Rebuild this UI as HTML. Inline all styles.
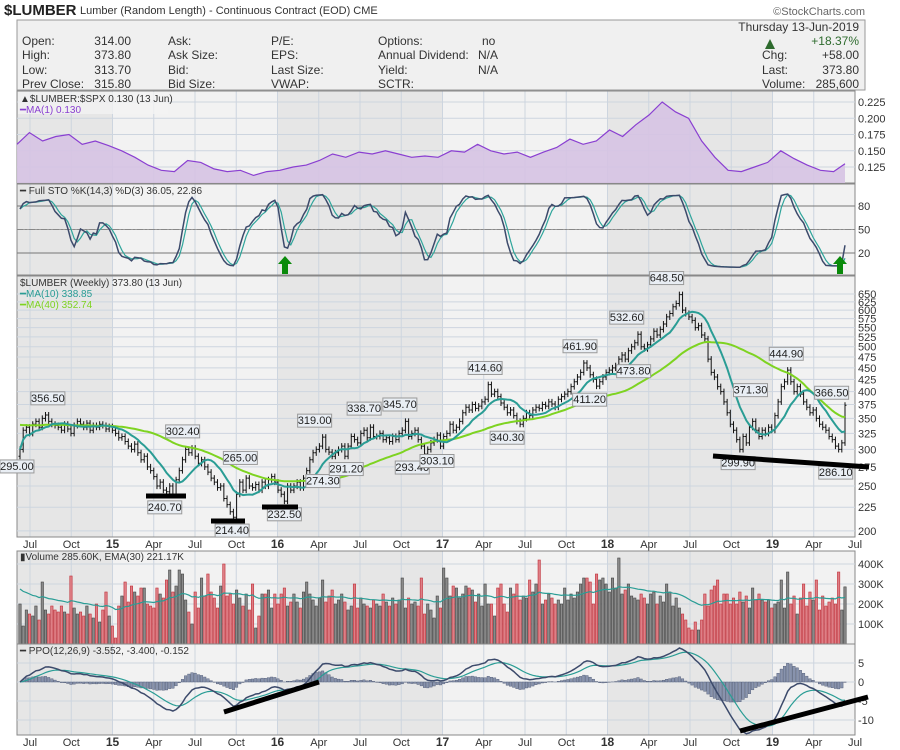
<!DOCTYPE html>
<html><head><meta charset="utf-8">
<style>
html,body{margin:0;padding:0;background:#fff;}
svg{display:block;font-family:"Liberation Sans",sans-serif;}
</style></head>
<body>
<svg id="chart" width="900" height="750" viewBox="0 0 900 750">
<g>
<text x="4" y="15" font-size="15" font-weight="bold" fill="#222">$LUMBER</text>
<text x="80" y="14" font-size="11" fill="#333">Lumber (Random Length) - Continuous Contract (EOD) CME</text>
<text x="865" y="15" font-size="11" fill="#666" text-anchor="end">©StockCharts.com</text>
</g>
<g font-size="12" fill="#333">
<rect x="17" y="20" width="848" height="70" fill="#f0f0f0" stroke="#999"/>
<text x="22" y="45">Open:</text><text x="131" y="45" text-anchor="end">314.00</text>
<text x="22" y="59">High:</text><text x="131" y="59" text-anchor="end">373.80</text>
<text x="22" y="74">Low:</text><text x="131" y="74" text-anchor="end">313.70</text>
<text x="22" y="88">Prev Close:</text><text x="131" y="88" text-anchor="end">315.80</text>
<text x="168" y="45">Ask:</text><text x="168" y="59">Ask Size:</text><text x="168" y="74">Bid:</text><text x="168" y="88">Bid Size:</text>
<text x="271" y="45">P/E:</text><text x="271" y="59">EPS:</text><text x="271" y="74">Last Size:</text><text x="271" y="88">VWAP:</text>
<text x="378" y="45">Options:</text><text x="378" y="59">Annual Dividend:</text><text x="378" y="74">Yield:</text><text x="378" y="88">SCTR:</text>
<text x="482" y="45">no</text><text x="478" y="59">N/A</text><text x="478" y="74">N/A</text>
<text x="859" y="31" text-anchor="end">Thursday 13-Jun-2019</text>
<polygon points="765,49 775,49 770,39" fill="#2e6b2e"/>
<text x="859" y="45" text-anchor="end" fill="#2e6b2e">+18.37%</text>
<text x="762" y="59">Chg:</text><text x="859" y="59" text-anchor="end">+58.00</text>
<text x="762" y="74">Last:</text><text x="859" y="74" text-anchor="end">373.80</text>
<text x="762" y="88">Volume:</text><text x="859" y="88" text-anchor="end">285,600</text>
</g>
<g id="panels"></g>
</svg>
<script>
// ---- data ----
const closes = [300,330,335,
325,340,345,335, 350,356,345,340,338, 335,330,340,332, 325,338,345,340, 335,342,330,338,335, 340,338,332,336,
330,325,318,320, 312,305,300,308, 295,285,290,275,270, 262,250,255,245, 243,250,240,258,270, 285,300,295,302,
290,280,285,275, 268,260,255,248,250, 235,228,220,214, 240,255,245,260,250, 248,252,245,255, 250,258,262,255,
245,240,232,250,245, 250,255,248,260, 270,285,295,300, 305,319,300,296,290, 295,300,305,290, 305,320,315,310,
325,330,318,335,320, 320,325,315,318, 312,320,315,325, 330,345,320,325,330, 315,305,293,300, 310,315,322,305,320,
325,340,330,335, 345,360,370,365, 375,368,372,380, 385,414,395,400, 390,378,370,360,365, 355,345,340,350,
360,355,365,370, 368,375,372,380,376, 370,385,390,395, 400,410,420,430, 440,461,450,435, 425,411,420,430,440,
445,450,455,470, 480,470,490,500, 510,532,500,495,505, 520,540,530,545, 560,580,590,610, 620,648,600,590,580,
570,550,555,530, 520,470,440,430,410, 400,380,360,340, 330,315,300,320, 310,335,345,330,320, 330,325,335,330,
355,380,410,420, 445,420,400,410, 395,380,370,360,365, 350,340,335,330, 320,315,305,300, 310,373.8];
const volumes = [280,200,90,
170,150,140,190, 120,310,170,150,190, 170,160,190,160, 150,340,180,150, 160,140,190,150,130, 200,110,170,260,
140,90,30,190, 240,310,210,290,260, 240,280,280,200, 190,180,280,250, 230,320,370,260, 290,370,350,220,
160,100,260,180, 330,240,350,260, 230,180,290,400, 240,250,200,270, 230,190,250,170, 300,80,140,250,
250,270,180,250,200, 250,280,190,210, 250,210,180,260, 310,250,220,190, 230,320,210,240, 270,200,220,250,
210,170,190,300, 180,230,200,190, 180,220,200,190, 250,210,190,230, 200,220,330,180, 230,200,210,190,
330,150,200,170, 130,240,180,380, 330,240,290,280, 230,250,290,280, 270,210,250,190, 300,200,200,140,
280,300,200,160, 280,250,300,220, 240,230,320,260, 300,420,200,220, 250,230,200,220, 200,280,220,250,
230,260,300,330, 330,310,200,350, 320,330,300,260, 330,280,430,250, 270,300,240,230, 220,250,230,200,
250,260,200,240, 210,300,260,190, 230,180,150,120, 80,70,110,70, 120,250,190,270, 290,320,200,250,
250,200,230,200, 260,210,240,180, 280,220,250,220, 210,220,180,200, 210,320,180,360, 200,240,150,230,
300,190,260,220, 320,170,240,190, 210,230,200, 360,170,285.6];
const ratioVals = [0.160,0.178,0.165,0.172,0.175,0.160,0.165,0.158,
0.150,0.140,0.128,0.120,0.118,0.135,0.132,0.122,0.118,0.120,0.112,0.118,
0.120,0.125,0.128,0.135,0.145,0.140,0.148,0.145,0.150,0.145,0.140,0.142,
0.140,0.150,0.148,0.160,0.150,0.145,0.148,0.140,0.148,0.155,0.168,0.160,
0.165,0.182,0.172,0.190,0.205,0.225,0.210,0.200,0.165,0.140,0.120,0.118,
0.125,0.132,0.150,0.138,0.128,0.120,0.118,0.130];
const ratioMonths = ratioVals.map((v,i)=>-1+i*(60.4/(ratioVals.length-1)));
const monthLabels = ["Jul","Oct","15","Apr","Jul","Oct","16","Apr","Jul","Oct","17","Apr","Jul","Oct","18","Apr","Jul","Oct","19","Apr","Jul"];
const priceTicks = [200,225,250,275,300,325,350,375,400,425,450,475,500,525,550,575,600,625,650];
const ratioTicks = [0.125,0.150,0.175,0.200,0.225];
const stoTicks = [20,50,80];
const volTicks = [100,200,300,400];
const ppoTicks = [5,0,-5,-10];
const annValues = [356.5,295.0,302.4,240.7,265.0,214.4,232.5,319.0,274.3,291.2,338.7,345.7,293.4,303.1,414.6,340.3,461.9,411.2,532.6,473.8,648.5,299.9,371.3,444.9,366.5,286.1];
const annMonths = [1.3,-0.95,11.1,9.8,15.3,14.7,18.5,20.7,21.3,23,24.3,26.9,27.8,29.6,33.1,34.7,40,40.7,43.4,43.9,46.3,51.5,52.4,55,58.3,58.6];
const annUp = [1,0,1,0,1,0,0,1,0,0,1,1,0,0,1,0,1,0,1,0,1,0,1,1,1,0];

// ---- scales ----
const L=17,R=855;
const NS='http://www.w3.org/2000/svg';
const root=document.getElementById('panels');
function el(tag,attrs,parent){const e=document.createElementNS(NS,tag);for(const k in attrs)e.setAttribute(k,attrs[k]);(parent||root).appendChild(e);return e;}
const N=closes.length;
const xW=i=>20+i*(825/(N-1));
const xM=m=>30+m*13.75;
const yP=p=>294+201*(Math.log(650)-Math.log(p));
const yR=v=>102+(0.225-v)*650;
const yS=v=>253-(v-20)*(47/60);
const yV=v=>644-v*0.2;
const yPPO=v=>682-v*3.8;

// derived series
const opens=closes.map((c,i)=>i?closes[i-1]:c-10);
const highs=closes.map((c,i)=>Math.max(c,opens[i])*1.015);
const lows=closes.map((c,i)=>Math.min(c,opens[i])*0.985);
function sma(a,n){return a.map((v,i)=>{const s=a.slice(Math.max(0,i-n+1),i+1);return s.reduce((x,y)=>x+y,0)/s.length;});}
function ema(a,n){const k=2/(n+1);let o=[];a.forEach((v,i)=>o.push(i?v*k+o[i-1]*(1-k):v));return o;}
const ma10=sma(closes,10);
const ma40=sma([340,338,342,336,340,345,338,342,340,344,338,336,340,342,345,340,338,336,340,344,342,338,335,340,342,345,340,338,342,340].concat(closes),40).slice(30);
const fastK=closes.map((c,i)=>{const h=Math.max(...highs.slice(Math.max(0,i-13),i+1)),l=Math.min(...lows.slice(Math.max(0,i-13),i+1));return h>l?(c-l)/(h-l)*100:50;});
const slowK=sma(fastK,3), slowD=sma(slowK,3);
const e12=ema(closes,12),e26=ema(closes,26);
const ppo=closes.map((c,i)=>(e12[i]-e26[i])/e26[i]*100);
const sig=ema(ppo,9);
const hist=ppo.map((v,i)=>v-sig[i]);
const volEma=ema(volumes,30);

function panel(name,y0,y1){
  const g=el('g',{});
  
  
  el('rect',{x:L,y:y0,width:R-L,height:y1-y0,fill:'#f2f2f2'},g);
  [[L,xM(6)],[xM(18),xM(30)],[xM(42),xM(54)]].forEach(s=>el('rect',{x:s[0],y:y0,width:s[1]-s[0],height:y1-y0,fill:'#e6e6e6'},g));
  monthLabels.forEach((m,i)=>{const x=xM(i*3);if(x<R)el('line',{x1:x,x2:x,y1:y0,y2:y1,stroke:'#cdd5df','stroke-width':1},g);});
  el('rect',{x:L,y:y0,width:R-L,height:y1-y0,fill:'none',stroke:'#888'},g);
  return g;
}
function hgrid(g,ys,labels,y0,y1,dark){
  ys.forEach((y,i)=>{el('line',{x1:L,x2:R,y1:y,y2:y,stroke:dark&&dark[i]?dark[i]:'#cdd5df'},g);
    const t=el('text',{x:858,y:y+4,'font-size':11,fill:'#333'},g);t.textContent=labels[i];
    
    });
}
function pathD(xs,ys){return xs.map((x,i)=>(i?'L':'M')+x.toFixed(1)+' '+ys[i].toFixed(1)).join('');}

// ratio panel
{
 const g=panel('ratio-panel',91,183);
 hgrid(g,ratioTicks.map(yR),ratioTicks.map(v=>v.toFixed(3)));
 const xs=ratioMonths.map(xM).map(x=>Math.max(L,Math.min(845,x))), ys=ratioVals.map(yR);
 const a=el('path',{d:pathD(xs,ys)+`L${xs[xs.length-1]} 183L${xs[0]} 183Z`,fill:'#d6c3e3',opacity:0.9},g);
 
 const l=el('path',{d:pathD(xs,ys),fill:'none',stroke:'#8a3fd1','stroke-width':1.2},g);
 
 el('rect',{x:18,y:92,width:150,height:22,fill:'#f2f2f2',opacity:0.8},g);
 const t1=el('text',{x:20,y:102,'font-size':10,fill:'#333'},g);t1.textContent='▲$LUMBER:$SPX 0.130 (13 Jun)';
 
 const t2=el('text',{x:20,y:113,'font-size':10,fill:'#8a3fd1'},g);t2.textContent='━MA(1) 0.130';
 
}
// sto panel
{
 const g=panel('stochastic-panel',184,275);
 hgrid(g,stoTicks.map(yS),stoTicks.map(String),0,0,['#777','#999','#777']);
 el('line',{x1:L,x2:R,y1:yS(50),y2:yS(50),stroke:'#888','stroke-dasharray':'6,2,2,2'},g);
 const xs=closes.map((c,i)=>xW(i));
 const d=el('path',{d:pathD(xs,slowD.map(yS)),fill:'none',stroke:'#2fa59b','stroke-width':1.2},g);
 
 const k=el('path',{d:pathD(xs,slowK.map(yS)),fill:'none',stroke:'#3c4a6b','stroke-width':1.5},g);
 
 [285,840].forEach(x=>{const ar=el('polygon',{points:`${x-7},264 ${x+7},264 ${x},256`,fill:'#0a8a0a'},g);
   
   el('rect',{x:x-3,y:264,width:6,height:10,fill:'#0a8a0a'},g);});
 const t=el('text',{x:20,y:194,'font-size':10,fill:'#333'},g);t.textContent='━ Full STO %K(14,3) %D(3) 36.05, 22.86';
 
}
// price panel
{
 const g=panel('price-panel',276,537);
 hgrid(g,priceTicks.map(yP),priceTicks.map(String));
 const bars=el('g',{stroke:'#111','stroke-width':1},g);
 
 closes.forEach((c,i)=>{const x=xW(i);
   const b=el('path',{d:`M${x} ${yP(highs[i])}V${yP(lows[i])}M${x-1.5} ${yP(opens[i])}H${x}M${x} ${yP(c)}H${x+1.5}`},bars);
   });
 const xs=closes.map((c,i)=>xW(i));
 const m40=el('path',{d:pathD(xs,ma40.map(yP)),fill:'none',stroke:'#7ed321','stroke-width':2},g);
 
 const m10=el('path',{d:pathD(xs,ma10.map(yP)),fill:'none',stroke:'#2a9d95','stroke-width':2},g);
 
 annValues.forEach((v,i)=>{const x=xM(annMonths[i]);const up=annUp[i];const ty=up?yP(v*1.035)-6:yP(v*0.965)+10;
   const lg=el('g',{},g);
   el('rect',{x:x-17,y:ty-10,width:34,height:13,fill:'#e9eef4',stroke:'#999'},lg);
   const t=el('text',{x:x,y:ty,'font-size':11,'text-anchor':'middle',fill:'#222'},lg);t.textContent=v.toFixed(2);});
 [[146,496,186,496],[211,521,245,521],[262,507,298,507],[713,456,869,467]].forEach(s=>{
   const l=el('line',{x1:s[0],y1:s[1],x2:s[2],y2:s[3],stroke:'#000','stroke-width':5},g);
   });
 const t1=el('text',{x:20,y:286,'font-size':10,fill:'#333'},g);t1.textContent='$LUMBER (Weekly) 373.80 (13 Jun)';
 
 const t2=el('text',{x:20,y:297,'font-size':10,fill:'#2a9d95'},g);t2.textContent='━MA(10) 338.85';
 
 const t3=el('text',{x:20,y:308,'font-size':10,fill:'#7ed321'},g);t3.textContent='━MA(40) 352.74';
 
}
// date axes
[548,746].forEach(y=>{monthLabels.forEach((m,i)=>{const t=el('text',{x:xM(i*3),y:y,'font-size':/\d/.test(m)?12:11,'font-weight':/\d/.test(m)?'bold':'normal','text-anchor':'middle',fill:'#333'});t.textContent=m;
 });});
// volume panel
{
 const g=panel('volume-panel',551,644);
 hgrid(g,volTicks.map(yV),volTicks.map(v=>v+'K'));
 const w=825/(N-1)*0.75;
 const nv=Math.min(N,volumes.length);
 const off=N-nv;
 for(let j=0;j<nv;j++){const v=volumes[volumes.length-nv+j];const i=off+j;const up=closes[i]>=opens[i];
   const b=el('rect',{x:xW(i)-w/2,y:yV(v),width:w,height:644-yV(v),fill:up?'#8a8a8a':'#de7f86',stroke:up?'#444':'#c0303a','stroke-width':0.6},g);
   }
 const ve=volEma.slice(volumes.length-nv);
 const l=el('path',{d:pathD(ve.map((v,j)=>xW(off+j)),ve.map(yV)),fill:'none',stroke:'#2a9d95','stroke-width':1.2},g);
 
 const t=el('text',{x:20,y:560,'font-size':10,fill:'#333'},g);t.textContent='▮Volume 285.60K, EMA(30) 221.17K';
 
}
// ppo panel
{
 const g=panel('ppo-panel',644,735);
 hgrid(g,ppoTicks.map(yPPO),ppoTicks.map(String));
 const w=825/(N-1)*0.8;
 hist.forEach((h,i)=>{const y0=yPPO(0),y1=yPPO(h);
   const b=el('rect',{x:xW(i)-w/2,y:Math.min(y0,y1),width:w,height:Math.abs(y1-y0),fill:'#8893ad',stroke:'#4a5570','stroke-width':0.4},g);
   });
 const xs=closes.map((c,i)=>xW(i));
 const s=el('path',{d:pathD(xs,sig.map(yPPO)),fill:'none',stroke:'#2a9d95','stroke-width':1.2},g);
 
 const p=el('path',{d:pathD(xs,ppo.map(yPPO)),fill:'none',stroke:'#3c4a6b','stroke-width':1.5},g);
 
 [[224,712,319,682],[740,731,868,697]].forEach(s=>{
   const l=el('line',{x1:s[0],y1:s[1],x2:s[2],y2:s[3],stroke:'#000','stroke-width':5},g);
   });
 const t=el('text',{x:20,y:654,'font-size':10,fill:'#333'},g);t.textContent='━ PPO(12,26,9) -3.552, -3.400, -0.152';
 
}
</script>
</body></html>
